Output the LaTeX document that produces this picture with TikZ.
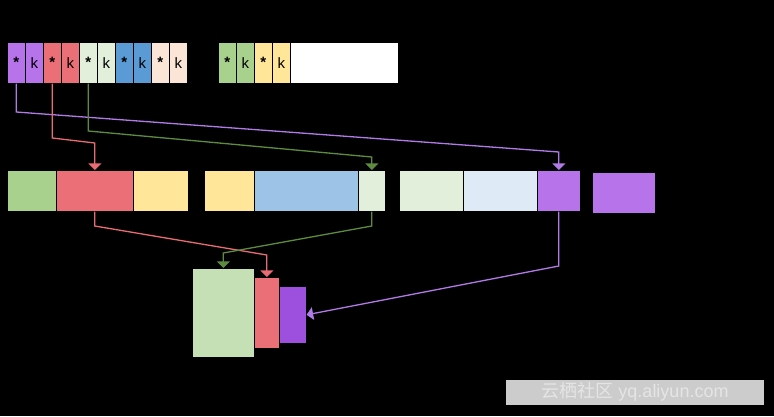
\documentclass[tikz,border=0pt]{standalone}
\usepackage{fontspec}
\setmainfont{Liberation Sans}
\newfontfamily\cjkfont{Noto Sans CJK SC}
\usetikzlibrary{arrows}
\definecolor{lilac}{HTML}{B673EA}
\definecolor{deeplilac}{HTML}{9D4FDD}
\definecolor{rose}{HTML}{EA6F77}
\definecolor{mint}{HTML}{E2EFDA}
\definecolor{leaf}{HTML}{A9D18E}
\definecolor{paleleaf}{HTML}{C5E0B4}
\definecolor{sky}{HTML}{5B9BD5}
\definecolor{palesky}{HTML}{9DC3E6}
\definecolor{icesky}{HTML}{DEEBF7}
\definecolor{peach}{HTML}{FBE5D6}
\definecolor{butter}{HTML}{FFE699}
\definecolor{lilacline}{HTML}{B27AE6}
\definecolor{roseline}{HTML}{EA6B73}
\definecolor{leafline}{HTML}{5E8C3E}
\tikzstyle{cell} = [rectangle, draw=black, line width=0.6pt, minimum width=18pt, minimum height=41pt, anchor=north west, inner sep=0pt, font=\fontsize{15}{17}\selectfont]
\tikzstyle{block} = [rectangle, draw=black, line width=0.6pt, minimum height=41pt, anchor=north west, inner sep=0pt]
\tikzstyle{arrow} = [line width=1.3pt, ->, >=triangle 90]
\newcommand{\st}{\raisebox{-0.45ex}{\bfseries *}}

\begin{document}
\begin{tikzpicture}[x=1pt, y=-1pt]
    % Fond
    \fill[black] (0,0) rectangle (774,416);
    \useasboundingbox (0,0) rectangle (774,416);

    % Clés du haut
    \node (ps) [cell, fill=lilac] at (7,42) {\st};
    \node (pk) [cell, fill=lilac] at (25,42) {k};
    \node (rs) [cell, fill=rose] at (43,42) {\st};
    \node (rk) [cell, fill=rose] at (61,42) {k};
    \node (gs) [cell, fill=mint] at (79,42) {\st};
    \node (gk) [cell, fill=mint] at (97,42) {k};
    \node (bs) [cell, fill=sky] at (115,42) {\st};
    \node (bk) [cell, fill=sky] at (133,42) {k};
    \node (os) [cell, fill=peach] at (151,42) {\st};
    \node (ok) [cell, fill=peach] at (169,42) {k};

    \node (ls) [cell, fill=leaf] at (218,42) {\st};
    \node (lk) [cell, fill=leaf] at (236,42) {k};
    \node (ys) [cell, fill=butter] at (254,42) {\st};
    \node (yk) [cell, fill=butter] at (272,42) {k};
    \node (free) [cell, fill=white, minimum width=108pt] at (290,42) {};

    % Blocs du milieu
    \node (m1) [block, fill=leaf, minimum width=49pt] at (7,170) {};
    \node (m2) [block, fill=rose, minimum width=77pt] at (56,170) {};
    \node (m3) [block, fill=butter, minimum width=55pt] at (133,170) {};
    \node (m4) [block, fill=butter, minimum width=50pt] at (204,170) {};
    \node (m5) [block, fill=palesky, minimum width=104pt] at (254,170) {};
    \node (m6) [block, fill=mint, minimum width=27pt] at (358,170) {};
    \node (m7) [block, fill=mint, minimum width=64pt] at (399,170) {};
    \node (m8) [block, fill=icesky, minimum width=74pt] at (463,170) {};
    \node (m9) [block, fill=lilac, minimum width=43pt] at (537,170) {};
    \node (m10) [block, fill=lilac, minimum width=63pt] at (592,172) {};

    % Blocs du bas
    \node (c1) [block, fill=paleleaf, minimum width=62pt, minimum height=89pt] at (192,268) {};
    \node (c2) [block, fill=rose, minimum width=25pt, minimum height=71pt] at (254,277) {};
    \node (c3) [block, fill=deeplilac, minimum width=27pt, minimum height=57pt] at (279,286) {};

    % Filigrane
    \node (wm) [rectangle, fill=black!20, text=white!90!black, minimum width=258pt, minimum height=25pt, inner sep=0pt, font=\fontsize{18}{20}\selectfont] at (635,392) {{\cjkfont 云栖社区} yq.aliyun.com};

    % Liens
    \draw [arrow, lilacline] (ps.south) -- (ps.south |- 0,112) -- (m9.north |- 0,152) -- (m9.north);
    \draw [arrow, roseline] (rs.south) -- (rs.south |- 0,138) -- (m2.north |- 0,143) -- (m2.north);
    \draw [arrow, leafline] (gs.south) -- (gs.south |- 0,131) -- (m6.north |- 0,157) -- (m6.north);
    \draw [arrow, roseline] (m2.south) -- (m2.south |- 0,226) -- (c2.north |- 0,255) -- (c2.north);
    \draw [arrow, leafline] (m6.south) -- (m6.south |- 0,226) -- (c1.north |- 0,253) -- (c1.north);
    \draw [arrow, lilacline] (m9.south) -- (m9.south |- 0,266) -- (c3.east);

\end{tikzpicture}
\end{document}
